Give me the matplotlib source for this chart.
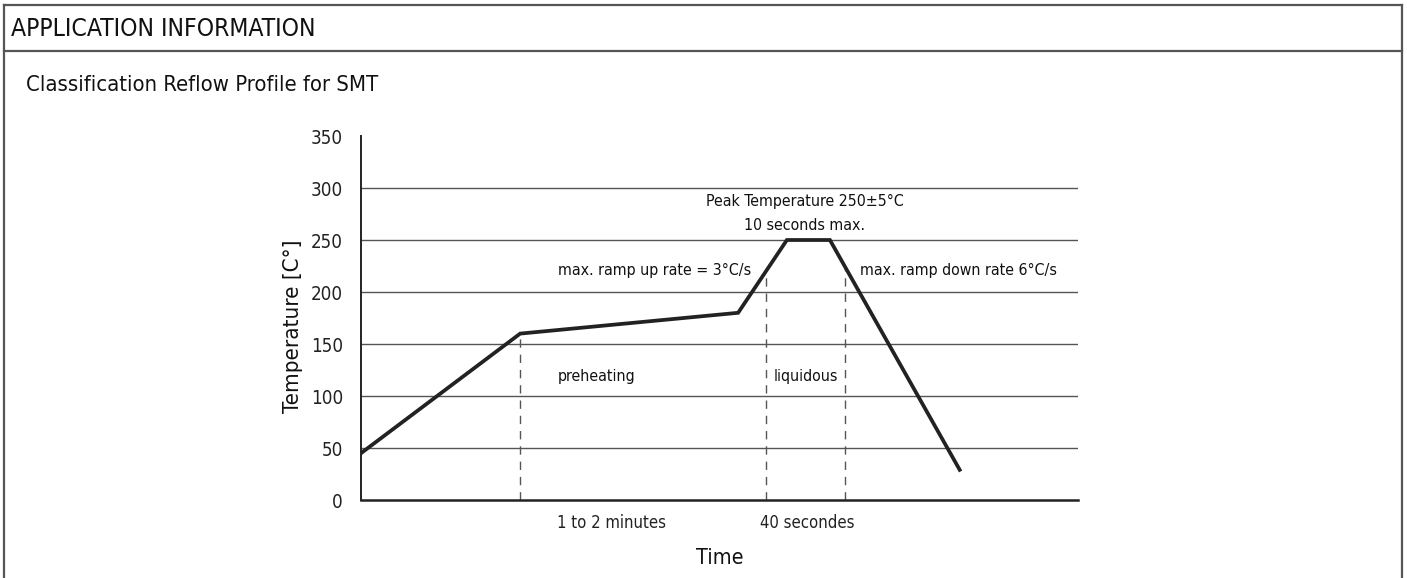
import matplotlib
matplotlib.use('Agg')
import matplotlib.pyplot as plt
from matplotlib.lines import Line2D
import numpy as np

plt.rcParams['font.family'] = ['DejaVu Sans']
plt.rcParams['font.stretch'] = 'condensed'

# reflow profile (time in arbitrary units, temperature in C)
profile_time = [0, 22.2, 52.6, 59.4, 65.4, 83.5]
profile_temp = [45, 160, 180, 250, 250, 29]

# dashed markers: end of preheat ramp, liquidous window
marker_time = [22.2, 56.5, 67.5]

y_ticks = [0, 50, 100, 150, 200, 250, 300, 350]

W, H = 1407, 578
fig = plt.figure(figsize=(W / 100, H / 100), dpi=100)

# outer box with header row
frame_col = '#555555'
fig.add_artist(Line2D([4 / W, 4 / W], [0, 1 - 5 / H], color=frame_col, lw=1.6))
fig.add_artist(Line2D([1402 / W, 1402 / W], [0, 1 - 5 / H], color=frame_col, lw=1.6))
fig.add_artist(Line2D([4 / W, 1402 / W], [1 - 5 / H, 1 - 5 / H], color=frame_col, lw=1.6))
fig.add_artist(Line2D([4 / W, 1402 / W], [1 - 51 / H, 1 - 51 / H], color=frame_col, lw=1.6))
fig.text(11 / W, 1 - 29 / H, 'APPLICATION INFORMATION', fontsize=17.7, va='center', ha='left',
         color='#111111')
fig.text(26 / W, 1 - 85 / H, 'Classification Reflow Profile for SMT', fontsize=15.8,
         va='center', ha='left', color='#111111')

ax = fig.add_axes([361 / W, 1 - 500 / H, (1078 - 361) / W, (500 - 136) / H])
ax.set_xlim(0, 100)
ax.set_ylim(0, 350)

for s in ['top', 'right']:
    ax.spines[s].set_visible(False)
ax.spines['left'].set_linewidth(1.4)
ax.spines['bottom'].set_linewidth(1.8)
ax.spines['left'].set_color('#222222')
ax.spines['bottom'].set_color('#222222')

ax.set_xticks([])
ax.set_yticks(y_ticks)
ax.tick_params(axis='y', length=0, pad=13, labelsize=13.5, labelcolor='#222222')

for t in y_ticks[1:-1]:
    ax.axhline(t, color='#555555', lw=1.0, zorder=1)

for mt in marker_time:
    top = np.interp(mt, profile_time, profile_temp)
    ax.plot([mt, mt], [0, top], color='#555555', lw=1.0, dashes=(6, 5), zorder=2)

ax.plot(profile_time, profile_temp, color='#222222', lw=2.7, zorder=3,
        solid_joinstyle='miter')

txt = dict(fontsize=11.4, ha='center', va='center', color='#111111')
ax.text(32.9, 119, 'preheating', **txt)
ax.text(62.1, 119, 'liquidous', **txt)
ax.text(41.0, 221, 'max. ramp up rate = 3°C/s', **txt)
ax.text(83.3, 221, 'max. ramp down rate 6°C/s', **txt)
ax.text(61.9, 287.5, 'Peak Temperature 250±5°C', **txt)
ax.text(61.9, 264, '10 seconds max.', **txt)

ax.text(34.9, -22, '1 to 2 minutes', fontsize=12, ha='center', va='center', color='#222222')
ax.text(62.2, -22, '40 secondes', fontsize=12, ha='center', va='center', color='#222222')

fig.text(720 / W, 1 - 558 / H, 'Time', fontsize=15.5, ha='center', va='center', color='#111111')
fig.text(293 / W, 1 - 326 / H, 'Temperature [C°]', fontsize=16, ha='center', va='center',
         rotation=90, color='#111111')

fig.savefig('out.png', dpi=100)
